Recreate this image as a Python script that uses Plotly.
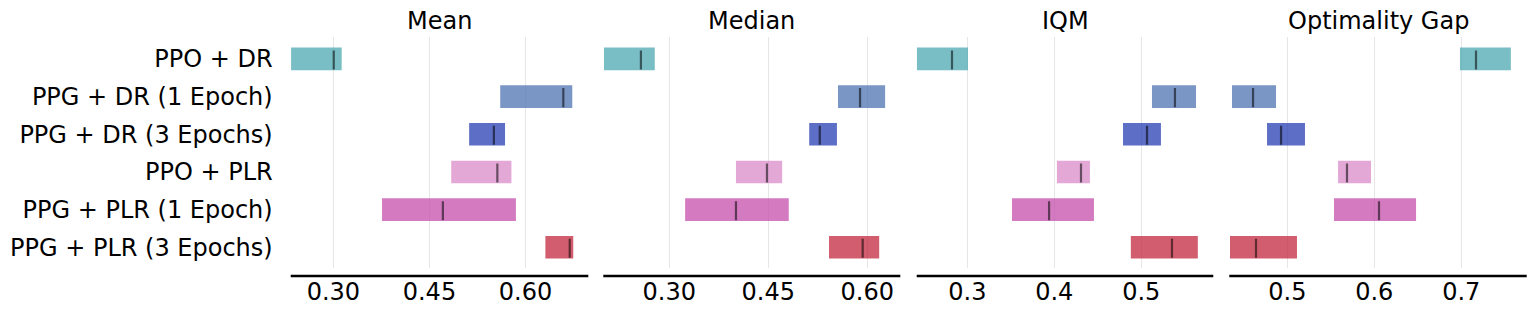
import plotly.graph_objects as go

W, H = 1535, 315

algorithms = ["PPO + DR", "PPG + DR (1 Epoch)", "PPG + DR (3 Epochs)",
              "PPO + PLR", "PPG + PLR (1 Epoch)", "PPG + PLR (3 Epochs)"]
colors = ["rgba(78,168,177,0.75)", "rgba(78,115,177,0.75)", "rgba(38,62,177,0.75)",
          "rgba(217,139,200,0.75)", "rgba(196,78,171,0.75)", "rgba(195,39,62,0.75)"]

metrics = ["Mean", "Median", "IQM", "Optimality Gap"]

mean_lo = [0.234, 0.5605, 0.512, 0.484, 0.376, 0.631]
mean_hi = [0.313, 0.673, 0.568, 0.578, 0.585, 0.6745]
mean_pt = [0.3006, 0.659, 0.5506, 0.556, 0.471, 0.669]

median_lo = [0.201, 0.5556, 0.512, 0.401, 0.324, 0.542]
median_hi = [0.278, 0.627, 0.554, 0.471, 0.481, 0.618]
median_pt = [0.257, 0.589, 0.528, 0.448, 0.401, 0.593]

iqm_lo = [0.242, 0.5123, 0.479, 0.403, 0.3514, 0.488]
iqm_hi = [0.3008, 0.5629, 0.5226, 0.441, 0.4456, 0.565]
iqm_pt = [0.2824, 0.5387, 0.5066, 0.4307, 0.394, 0.5353]

og_lo = [0.6985, 0.4364, 0.4767, 0.5583, 0.5537, 0.4341]
og_hi = [0.757, 0.487, 0.5203, 0.5962, 0.648, 0.5111]
og_pt = [0.7169, 0.4606, 0.4928, 0.5686, 0.6054, 0.464]

ticks = {
    "Mean": [0.30, 0.45, 0.60],
    "Median": [0.30, 0.45, 0.60],
    "IQM": [0.3, 0.4, 0.5],
    "Optimality Gap": [0.5, 0.6, 0.7],
}
tickfmt = {"Mean": ".2f", "Median": ".2f", "IQM": ".1f", "Optimality Gap": ".1f"}
xranges = {
    "Mean": [0.2334, 0.698],
    "Median": [0.200, 0.650],
    "IQM": [0.2418, 0.5828],
    "Optimality Gap": [0.4333, 0.7752],
}

data = {
    "Mean": (mean_lo, mean_hi, mean_pt),
    "Median": (median_lo, median_hi, median_pt),
    "IQM": (iqm_lo, iqm_hi, iqm_pt),
    "Optimality Gap": (og_lo, og_hi, og_pt),
}

# panel pixel extents
px_domains = [(290.7, 588.3), (603.3, 900.3), (916.7, 1213.3), (1229.3, 1526.7)]
y_top_px, y_bot_px, axis_line_px = 36.7, 268.0, 276.0

FONT = "DejaVu Sans"
FS = 24
fig = go.Figure()
positions = list(range(len(algorithms)))
bar_h = 0.6

shapes = []
annotations = []
for i, m in enumerate(metrics):
    lo, hi, pt = data[m]
    xa = "x" if i == 0 else f"x{i+1}"
    ya = "y" if i == 0 else f"y{i+1}"
    fig.add_trace(go.Bar(
        orientation="h",
        y=positions,
        x=[h - l for l, h in zip(lo, hi)],
        base=lo,
        width=bar_h,
        marker=dict(color=colors, line=dict(width=0)),
        xaxis=xa, yaxis=ya, showlegend=False, hoverinfo="skip",
    ))
    lx, ly = [], []
    for p, v in zip(positions, pt):
        lx += [v, v, None]
        ly += [p - 0.225, p + 0.281, None]
    fig.add_trace(go.Scatter(
        x=lx, y=ly, mode="lines",
        line=dict(color="rgba(0,0,0,0.55)", width=2.2),
        xaxis=xa, yaxis=ya, showlegend=False, hoverinfo="skip",
    ))
    d0, d1 = px_domains[i]
    dom = [d0 / W, d1 / W]
    xkey = "xaxis" if i == 0 else f"xaxis{i+1}"
    ykey = "yaxis" if i == 0 else f"yaxis{i+1}"
    fig.update_layout(**{
        xkey: dict(
            domain=dom, range=xranges[m], anchor=ya,
            tickvals=ticks[m], tickformat=tickfmt[m],
            showgrid=True, gridcolor="#e6e6e6", gridwidth=1,
            zeroline=False, showline=False, ticks="",
            tickfont=dict(family=FONT, size=FS, color="black"),
            ticklabelstandoff=7,
        ),
        ykey: dict(
            domain=[1 - y_bot_px / H, 1 - y_top_px / H],
            range=[5.55, -0.59], anchor=xa,
            tickvals=positions, ticktext=algorithms if i == 0 else None,
            showticklabels=(i == 0),
            showgrid=False, zeroline=False, showline=False, ticks="",
            tickfont=dict(family=FONT, size=FS, color="black"),
            ticklabelstandoff=17,
        ),
    })
    shapes.append(dict(
        type="line", xref="paper", yref="paper",
        x0=dom[0], x1=dom[1], y0=1 - axis_line_px / H, y1=1 - axis_line_px / H,
        line=dict(color="black", width=2.6),
    ))
    annotations.append(dict(
        text=m, xref="paper", yref="paper",
        x=(dom[0] + dom[1]) / 2, y=1 - 21.5 / H,
        xanchor="center", yanchor="middle", showarrow=False,
        font=dict(family=FONT, size=FS, color="black"),
    ))

fig.update_layout(
    width=W, height=H,
    margin=dict(l=0, r=0, t=0, b=0),
    paper_bgcolor="white", plot_bgcolor="white",
    barmode="overlay",
    shapes=shapes, annotations=annotations,
    font=dict(family=FONT, size=FS, color="black"),
)

fig.write_html("out.html", config={"displayModeBar": False},
               post_script="document.body.style.margin='0';")
